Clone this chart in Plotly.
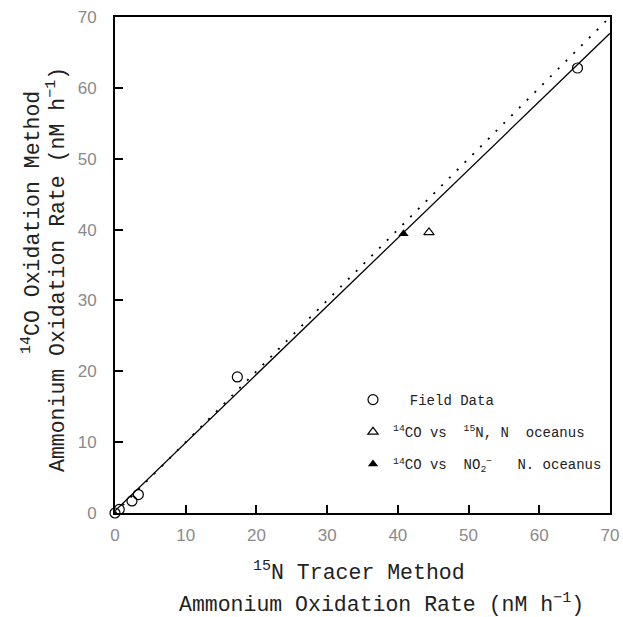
import plotly.graph_objects as go

# Data
field_x = [0.0, 0.6, 2.4, 3.3, 17.3, 65.4]
field_y = [0.0, 0.5, 1.7, 2.6, 19.2, 62.8]
tri_open_x = [44.4]
tri_open_y = [39.6]
tri_fill_x = [40.8]
tri_fill_y = [39.4]
fit_x = [0, 70]
fit_y = [0.3, 67.7]
one_x = [0, 70]
one_y = [0, 70]
ticks = [0, 10, 20, 30, 40, 50, 60, 70]

NB = "\u00a0"
fig = go.Figure()
fig.add_trace(go.Scatter(x=one_x, y=one_y, mode="lines", showlegend=False,
                         line=dict(color="black", width=1.8, dash="2px,9px")))
fig.add_trace(go.Scatter(x=fit_x, y=fit_y, mode="lines", showlegend=False,
                         line=dict(color="black", width=1.3)))
fig.add_trace(go.Scatter(x=field_x, y=field_y, mode="markers", name=NB + " Field Data",
                         legendgroup="a", cliponaxis=False,
                         marker=dict(symbol="circle-open", size=10, color="black", line=dict(width=1.2))))
fig.add_trace(go.Scatter(x=tri_open_x, y=tri_open_y, mode="markers",
                         name="<sup>14</sup>CO vs" + NB + " <sup>15</sup>N, N" + NB + " oceanus",
                         legendgroup="b", cliponaxis=False,
                         marker=dict(symbol="triangle-up-open", size=9, color="black", line=dict(width=1.2))))
fig.add_trace(go.Scatter(x=tri_fill_x, y=tri_fill_y, mode="markers",
                         name="<sup>14</sup>CO vs  NO<sub>2</sub><sup>\u2212</sup>" + NB * 3 + "N. oceanus",
                         legendgroup="c", cliponaxis=False,
                         marker=dict(symbol="triangle-up", size=9, color="black")))

axis_common = dict(range=[0, 70], tickvals=ticks, ticks="inside", ticklen=8, tickwidth=1.5,
                   tickcolor="black", showline=True, linecolor="black", linewidth=2, mirror=True,
                   showgrid=False, zeroline=False, automargin=False,
                   tickfont=dict(family="Liberation Sans", size=17, color="#8a8a8a"))
fig.update_xaxes(**axis_common, ticklabelstandoff=6)
fig.update_yaxes(**axis_common, ticklabelstandoff=13)

ann_font = dict(family="Liberation Mono", size=21.5, color="#222")
W0, W1, H0, H1 = 115, 610, 17, 513
def px(x, y):
    return (x - W0) / (W1 - W0), (H1 - y) / (H1 - H0)

anns = []
for text, cx, cy, ang in [
    ("<sup>15</sup>N Tracer Method", 359, 571, 0),
    ("Ammonium Oxidation Rate (nM h<sup>\u22121</sup>)", 381, 603, 0),
    ("<sup>14</sup>CO Oxidation Method", 31, 223, -90),
    ("Ammonium Oxidation Rate (nM h<sup>\u22121</sup>)", 56, 270, -90),
]:
    ax, ay = px(cx, cy)
    anns.append(dict(text=text, x=ax, y=ay, xref="paper", yref="paper", showarrow=False,
                     xanchor="center", yanchor="middle", textangle=ang, font=ann_font))

lx, ly = px(353, 384)
fig.update_layout(
    width=623, height=617,
    margin=dict(l=W0, r=623 - W1, t=H0, b=617 - H1),
    paper_bgcolor="white", plot_bgcolor="white",
    annotations=anns,
    legend=dict(x=lx, y=ly, xanchor="left", yanchor="top", bgcolor="rgba(0,0,0,0)",
                font=dict(family="Liberation Mono", size=14, color="#222"),
                tracegroupgap=11, itemwidth=30),
)
fig.write_html("out.html", config={"displayModeBar": False},
               post_script="document.body.style.margin='0';")
